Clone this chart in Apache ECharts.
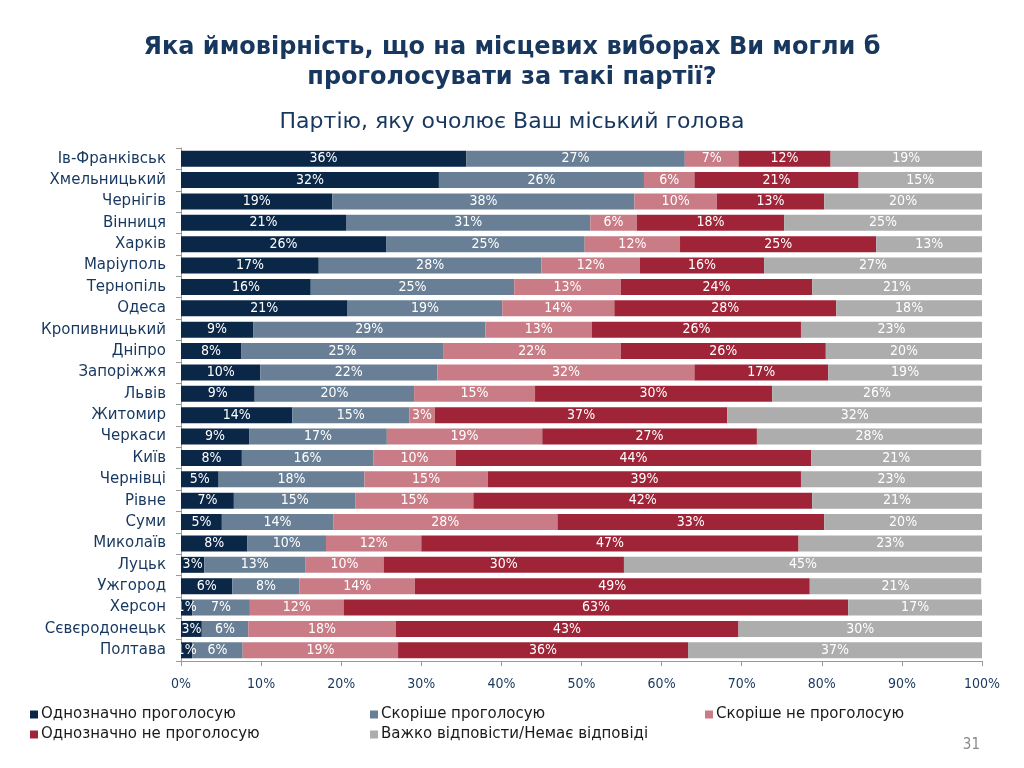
<!DOCTYPE html>
<html><head><meta charset="utf-8">
<script src="https://cdn.jsdelivr.net/npm/echarts@6/dist/echarts.min.js"></script>
<style>html,body{margin:0;padding:0;background:#fff}#c{width:1024px;height:768px}</style>
</head><body><div id="c"></div>
<script>
const cities = ['Ів-Франківськ','Хмельницький','Чернігів','Вінниця','Харків','Маріуполь','Тернопіль','Одеса','Кропивницький','Дніпро','Запоріжжя','Львів','Житомир','Черкаси','Київ','Чернівці','Рівне','Суми','Миколаїв','Луцьк','Ужгород','Херсон','Сєвєродонецьк','Полтава'];
const seriesNames = ['Однозначно проголосую','Скоріше проголосую','Скоріше не проголосую','Однозначно не проголосую','Важко відповісти/Немає відповіді'];
const definitelyYes = [35.6,32.2,18.9,20.6,25.6,17.2,16.2,20.8,9.0,7.5,9.9,9.2,13.9,8.5,7.6,4.7,6.6,5.1,8.3,2.9,6.4,1.4,2.6,1.4];
const ratherYes     = [27.3,25.6,37.7,30.5,24.8,27.8,25.4,19.3,29.0,25.3,22.1,19.9,14.6,17.2,16.4,18.2,15.2,13.9,9.8,12.6,8.4,7.2,5.8,6.3];
const ratherNo      = [6.7,6.3,10.3,5.8,11.9,12.3,13.3,14.0,13.3,22.1,32.1,15.1,3.2,19.4,10.3,15.4,14.7,28.0,11.9,9.8,14.4,11.7,18.4,19.4];
const definitelyNo  = [11.5,20.5,13.4,18.4,24.5,15.5,23.9,27.7,26.1,25.6,16.7,29.6,36.5,26.8,44.4,39.1,42.3,33.3,47.1,30.0,49.3,63.0,42.8,36.2];
const hardToSay     = [19.0,15.4,19.7,24.7,13.2,27.2,21.2,18.2,22.6,19.5,19.2,26.2,31.8,28.1,21.2,22.6,21.2,19.7,22.9,44.7,21.4,16.7,30.4,36.7];
const xTicks = [0,10,20,30,40,50,60,70,80,90,100];

const colors = ['#0b2748','#687f95','#c97c86','#a02438','#adadad'];
const navy = '#17375e';
const font = 'DejaVu Sans Condensed';
const wide = 'DejaVu Sans';
const allData = [definitelyYes, ratherYes, ratherNo, definitelyNo, hardToSay];

const chart = echarts.init(document.getElementById('c'), null, {renderer:'canvas'});
const legendPos = [[30,707],[370,707],[705,707],[30,727],[370,727]];
chart.setOption({
  animation:false,
  textStyle:{fontFamily:font},
  title:[
    {text:'Яка ймовірність, що на місцевих виборах Ви могли б\nпроголосувати за такі партії?', left:'center', top:28,
     textStyle:{color:navy, fontSize:24, fontWeight:'bold', lineHeight:30, fontFamily:wide}},
    {text:'Партію, яку очолює Ваш міський голова', left:'center', top:106,
     textStyle:{color:navy, fontSize:22, fontWeight:'normal', fontFamily:wide}}
  ],
  graphic:[{type:'text', right:44, top:738, style:{text:'31', fill:'#888', fontSize:15, fontFamily:font}}],
  legend: seriesNames.map((n,i)=>({
    data:[n], left:legendPos[i][0], top:legendPos[i][1], itemWidth:8, itemHeight:8, icon:'rect', itemGap:4,
    textStyle:{color:'#1a1a1a', fontSize:15, fontFamily:wide, padding:[0,0,0,-2]}, padding:0
  })),
  grid:{left:181, right:42, top:148, height:513, containLabel:false},
  xAxis:{type:'value', min:0, max:100, interval:10,
    axisLine:{show:true, lineStyle:{color:'#999'}},
    axisTick:{show:true, length:5, lineStyle:{color:'#999'}},
    splitLine:{show:false},
    axisLabel:{formatter:v=>v+'%', color:navy, fontSize:14, margin:16, fontFamily:font}},
  yAxis:{type:'category', data:cities, inverse:true,
    axisLine:{show:true, lineStyle:{color:'#999'}},
    axisTick:{show:true, length:5, lineStyle:{color:'#999'}},
    axisLabel:{color:navy, fontSize:15, margin:15, fontFamily:wide}},
  series: seriesNames.map((n,i)=>({
    name:n, type:'bar', stack:'total', data:allData[i], barWidth:16,
    itemStyle:{color:colors[i]},
    label:{show:true, position:'inside', color:'#fff', fontSize:14, fontFamily:font,
      formatter:p=>Math.round(p.value)+'%'}
  }))
});
</script></body></html>
